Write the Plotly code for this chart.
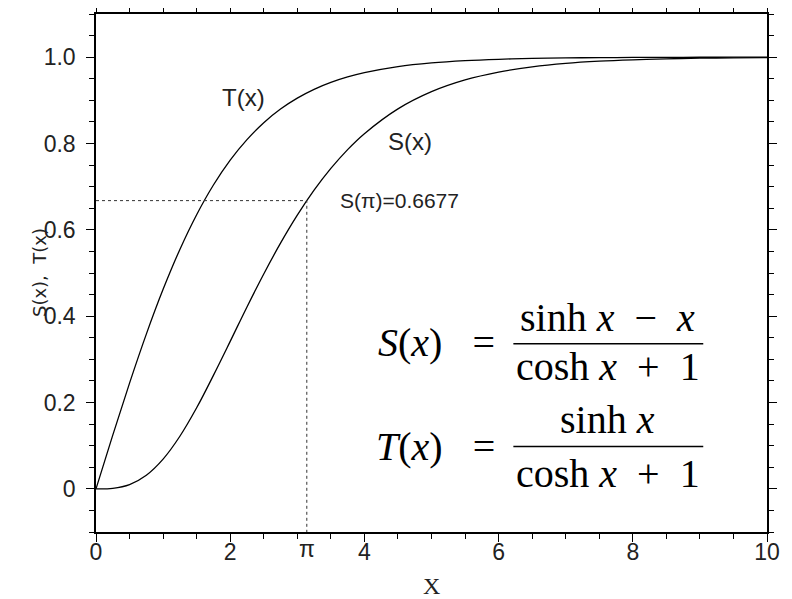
import plotly.graph_objects as go

# ---- data ----
x_vals = [0, 0.25, 0.5, 0.75, 1.0, 1.25, 1.5, 1.75, 2.0, 2.25, 2.5, 2.75, 3.0, 3.25, 3.5, 3.75, 4.0,
          4.5, 5.0, 5.5, 6.0, 6.5, 7.0, 7.5, 8.0, 8.5, 9.0, 9.5, 10.0]
T_vals = [0.0, 0.1244, 0.2449, 0.3584, 0.4621, 0.5546, 0.6351, 0.7039, 0.7616, 0.8090, 0.8483, 0.8799,
          0.9051, 0.9254, 0.9414, 0.9541, 0.9640, 0.9780, 0.9866, 0.9919, 0.9951, 0.9970, 0.9982,
          0.9989, 0.9993, 0.9996, 0.9998, 0.9999, 0.9999]
S_vals = [0.0, 0.0013, 0.0099, 0.0316, 0.0689, 0.1218, 0.1877, 0.2629, 0.3416, 0.4214, 0.4978, 0.5691,
          0.6340, 0.6918, 0.7422, 0.7859, 0.8227, 0.8802, 0.9201, 0.9473, 0.9655, 0.9775, 0.9855,
          0.9906, 0.9939, 0.9961, 0.9976, 0.9985, 0.9990]
x_ticks = [0, 2, 4, 6, 8, 10]
x_tick_text = ["0", "2", "4", "6", "8", "10"]
y_ticks = [0, 0.2, 0.4, 0.6, 0.8, 1.0]
y_tick_text = ["0", "0.2", "0.4", "0.6", "0.8", "1.0"]
pi_x = 3.14159
s_pi = 0.6677
x_range = [0, 10]
y_range = [-0.1, 1.1]

fig = go.Figure()
fig.add_trace(go.Scatter(x=x_vals, y=T_vals, mode="lines", line=dict(color="black", width=1.3, shape="spline"),
                         showlegend=False, hoverinfo="skip"))
fig.add_trace(go.Scatter(x=x_vals, y=S_vals, mode="lines", line=dict(color="black", width=1.3, shape="spline"),
                         showlegend=False, hoverinfo="skip"))
# dashed guide lines
fig.add_trace(go.Scatter(x=[x_range[0], pi_x, pi_x], y=[s_pi, s_pi, y_range[0]], mode="lines",
                         line=dict(color="#333", width=1, dash="3px,3px"), showlegend=False, hoverinfo="skip"))

tick_font = dict(family="Liberation Sans", size=23, color="#222")
fig.update_xaxes(range=x_range, tickvals=x_ticks, ticktext=x_tick_text, ticks="outside", ticklen=8,
                 tickwidth=1.2, tickcolor="black", showline=True, linecolor="black", linewidth=1.5,
                 mirror="ticks", showgrid=False, zeroline=False, tickfont=tick_font, ticklabelstandoff=-9,
                 minor=dict(dtick=0.5, tick0=0, ticks="outside", ticklen=5, tickwidth=1.2, tickcolor="black",
                            showgrid=False))
fig.update_yaxes(range=y_range, tickvals=y_ticks, ticktext=y_tick_text, ticks="outside", ticklen=8,
                 tickwidth=1.2, tickcolor="black", showline=True, linecolor="black", linewidth=1.5,
                 mirror="ticks", showgrid=False, zeroline=False, tickfont=tick_font, ticklabelstandoff=6,
                 minor=dict(dtick=0.05, tick0=0, ticks="outside", ticklen=5, tickwidth=1.2, tickcolor="black",
                            showgrid=False))

ann = []
# pi tick label
ann.append(dict(x=pi_x, y=0, xref="x", yref="paper", text="π", showarrow=False, yanchor="top", yshift=-2,
                font=tick_font))
# axis titles
ann.append(dict(x=0.5, y=0, xref="paper", yref="paper", text="X", showarrow=False, yanchor="middle",
                yshift=-54, borderpad=0, font=dict(family="Liberation Serif", size=24, color="#222")))
ann.append(dict(x=0, y=0.5, xref="paper", yref="paper", text="S(x),  T(x)", showarrow=False, textangle=-90,
                xanchor="center", xshift=-57, yshift=0, font=dict(family="DejaVu Sans", size=18, color="#222")))
# curve labels
lab_font = dict(family="Liberation Sans", size=24, color="#222")
ann.append(dict(x=2.2, y=0.907, text="T(x)", showarrow=False, font=lab_font))
ann.append(dict(x=4.675, y=0.804, text="S(x)", showarrow=False, font=lab_font))
ann.append(dict(x=3.6, y=s_pi, text="S(π)=0.6677", showarrow=False, xanchor="left", yshift=0,
                font=dict(family="Liberation Sans", size=21, color="#222")))

# formula block
ff = dict(family="Liberation Serif", size=40, color="black")
sp = "\u00a0"
ann.append(dict(x=5.98, y=0.338, text="<i>S</i>(<i>x</i>)" + sp * 3 + "=", showarrow=False, xanchor="right", font=ff))
ann.append(dict(x=7.63, y=0.396, text="sinh" + sp + "<i>x</i>" + sp * 2 + "−" + sp * 2 + "<i>x</i>",
                showarrow=False, font=ff))
ann.append(dict(x=7.63, y=0.284, text="cosh" + sp + "<i>x</i>" + sp * 2 + "+" + sp * 2 + "1", showarrow=False, font=ff))
ann.append(dict(x=5.98, y=0.098, text="<i>T</i>(<i>x</i>)" + sp * 3 + "=", showarrow=False, xanchor="right", font=ff))
ann.append(dict(x=7.63, y=0.161, text="sinh" + sp + "<i>x</i>", showarrow=False, font=ff))
ann.append(dict(x=7.63, y=0.036, text="cosh" + sp + "<i>x</i>" + sp * 2 + "+" + sp * 2 + "1", showarrow=False, font=ff))

shapes = [
    dict(type="line", x0=6.22, x1=9.05, y0=0.336, y1=0.336, xref="x", yref="y", line=dict(color="black", width=1.5)),
    dict(type="line", x0=6.22, x1=9.05, y0=0.098, y1=0.098, xref="x", yref="y", line=dict(color="black", width=1.5)),
]

# the page adds an 8px body margin, so the figure is 8px smaller and margins are shifted accordingly
fig.update_layout(width=784, height=591, margin=dict(l=88, r=25, t=6, b=67, pad=0, autoexpand=False),
                  plot_bgcolor="white", paper_bgcolor="white", annotations=ann, shapes=shapes)
fig.write_html("out.html")
